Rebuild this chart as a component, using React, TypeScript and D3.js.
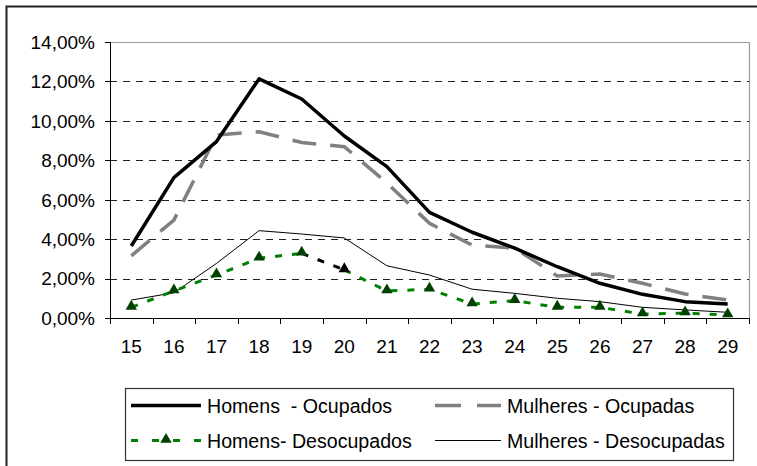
import * as d3 from "d3";

const ages = ["15", "16", "17", "18", "19", "20", "21", "22", "23", "24", "25", "26", "27", "28", "29"];

const homensOcupados = [3.65, 7.12, 8.95, 12.13, 11.11, 9.23, 7.68, 5.36, 4.35, 3.54, 2.6, 1.76, 1.2, 0.83, 0.71];
const mulheresOcupadas = [3.15, 4.97, 9.28, 9.45, 8.9, 8.69, 6.85, 4.8, 3.7, 3.55, 2.13, 2.23, 1.76, 1.22, 0.91];
const homensDesocupados = [0.54, 1.37, 2.18, 3.03, 3.28, 2.44, 1.37, 1.46, 0.71, 0.88, 0.54, 0.54, 0.2, 0.25, 0.15];
const mulheresDesocupadas = [0.91, 1.28, 2.77, 4.43, 4.26, 4.06, 2.65, 2.18, 1.46, 1.25, 1.0, 0.83, 0.54, 0.41, 0.29];

const yTicks = [0, 2, 4, 6, 8, 10, 12, 14];

const legendItems = [
  { label: "Homens  - Ocupados", key: "ho" },
  { label: "Mulheres - Ocupadas", key: "mo" },
  { label: "Homens- Desocupados", key: "hd" },
  { label: "Mulheres - Desocupadas", key: "md" },
];

const W = 757;
const H = 466;
const left = 110;
const right = 749;
const top = 42;
const bottom = 318;
const font = "'Liberation Sans', Arial, sans-serif";
const fs = 19;
const lfs = 19.6;

type Pt = { a: string; v: number };

export default function App() {
  const x = d3.scaleBand<string>().domain(ages).range([left, right]);
  const cx = (a: string) => (x(a) ?? 0) + x.bandwidth() / 2;
  const y = d3.scaleLinear().domain([0, 14]).range([bottom, top]);

  const line = d3
    .line<Pt>()
    .x((d) => cx(d.a))
    .y((d) => y(d.v));

  const toPts = (vals: number[]): Pt[] => vals.map((v, i) => ({ a: ages[i], v }));

  const ho = toPts(homensOcupados);
  const mo = toPts(mulheresOcupadas);
  const hd = toPts(homensDesocupados);
  const md = toPts(mulheresDesocupadas);

  // the 19-20 segment of the green series is drawn black in the original
  const i19 = ages.indexOf("19");
  const i20 = ages.indexOf("20");
  const hdA = hd.slice(0, i19 + 1);
  const hdB = hd.slice(i20);
  const hdBlack = hd.slice(i19, i20 + 1);

  const tri = d3.symbol(d3.symbolTriangle, 56)() as string;

  const sample = (key: string, x0: number, x1: number, yy: number) => {
    if (key === "ho")
      return <line x1={x0} x2={x1} y1={yy} y2={yy} stroke="#000" strokeWidth={3.5} />;
    if (key === "mo")
      return (
        <line x1={x0} x2={x1} y1={yy} y2={yy} stroke="#808080" strokeWidth={3.5} strokeDasharray="26 16" />
      );
    if (key === "hd")
      return (
        <g>
          <line x1={x0} x2={x1} y1={yy} y2={yy} stroke="#008000" strokeWidth={3} strokeDasharray="7 14" />
          <path d={tri} transform={`translate(${(x0 + x1) / 2},${yy - 1})`} fill="#004000" />
        </g>
      );
    return <line x1={x0} x2={x1} y1={yy} y2={yy} stroke="#000" strokeWidth={1} />;
  };

  return (
    <svg
      width={W}
      height={H}
      style={{ position: "absolute", left: 0, top: 0, background: "#fff" }}
      fontFamily={font}
    >
      <rect x={6.5} y={6.5} width={W + 20} height={H + 20} fill="#fff" stroke="#222" strokeWidth={2} />

      {/* gridlines */}
      {yTicks
        .filter((t) => t > 0 && t < 14)
        .map((t) => (
          <line
            key={t}
            x1={left}
            x2={right}
            y1={Math.round(y(t)) + 0.5}
            y2={Math.round(y(t)) + 0.5}
            stroke="#222"
            strokeWidth={1}
            strokeDasharray="7 6"
          />
        ))}

      {/* plot area border top & right */}
      <path
        d={`M${left},${top + 0.5}H${right + 0.5}V${bottom}`}
        fill="none"
        stroke="#999"
        strokeWidth={1.2}
      />

      {/* axes */}
      <line x1={left + 0.5} x2={left + 0.5} y1={top} y2={bottom} stroke="#000" />
      <line x1={left} x2={right + 1} y1={bottom + 0.5} y2={bottom + 0.5} stroke="#000" />
      {yTicks.map((t) => (
        <g key={t}>
          <line x1={left - 5} x2={left} y1={Math.round(y(t)) + 0.5} y2={Math.round(y(t)) + 0.5} stroke="#000" />
          <text x={95} y={y(t) + 6.8} textAnchor="end" fontSize={fs} fill="#000">
            {t.toFixed(2).replace(".", ",") + "%"}
          </text>
        </g>
      ))}
      {ages.map((a) => (
        <text key={a} x={cx(a)} y={353} textAnchor="middle" fontSize={fs} fill="#000">
          {a}
        </text>
      ))}
      {[...ages, "end"].map((a, i) => {
        const xx = Math.round(left + i * x.step()) + 0.5;
        return <line key={a} x1={xx} x2={xx} y1={bottom} y2={bottom + 6} stroke="#000" />;
      })}

      {/* series */}
      <path d={line(md) ?? ""} fill="none" stroke="#000" strokeWidth={1} />
      <path
        d={line(mo) ?? ""}
        fill="none"
        stroke="#808080"
        strokeWidth={3.5}
        strokeDasharray="24 14"
      />
      <path d={line(ho) ?? ""} fill="none" stroke="#000" strokeWidth={3.5} strokeLinejoin="round" />
      <path d={line(hdA) ?? ""} fill="none" stroke="#008000" strokeWidth={3} strokeDasharray="7 10" />
      <path d={line(hdB) ?? ""} fill="none" stroke="#008000" strokeWidth={3} strokeDasharray="7 10" />
      <path d={line(hdBlack) ?? ""} fill="none" stroke="#000" strokeWidth={3} strokeDasharray="7 10" />
      {hd.map((d) => (
        <path
          key={d.a}
          d={tri}
          transform={`translate(${cx(d.a)},${y(d.v) - 1})`}
          fill={d.a === "20" ? "#000" : "#004000"}
        />
      ))}

      {/* legend */}
      <rect x={125.5} y={388.5} width={608} height={72} fill="#fff" stroke="#333" strokeWidth={1.2} />
      {legendItems.map((it, i) => {
        const col = i % 2;
        const row = Math.floor(i / 2);
        const x0 = col === 0 ? 131 : 435;
        const x1 = col === 0 ? 201 : 501;
        const yy = row === 0 ? 405.5 : 440.5;
        return (
          <g key={it.key}>
            {sample(it.key, x0, x1, yy)}
            <text x={x1 + 6} y={yy + 7} fontSize={lfs} fill="#000" style={{ whiteSpace: "pre" }}>
              {it.label}
            </text>
          </g>
        );
      })}
    </svg>
  );
}
